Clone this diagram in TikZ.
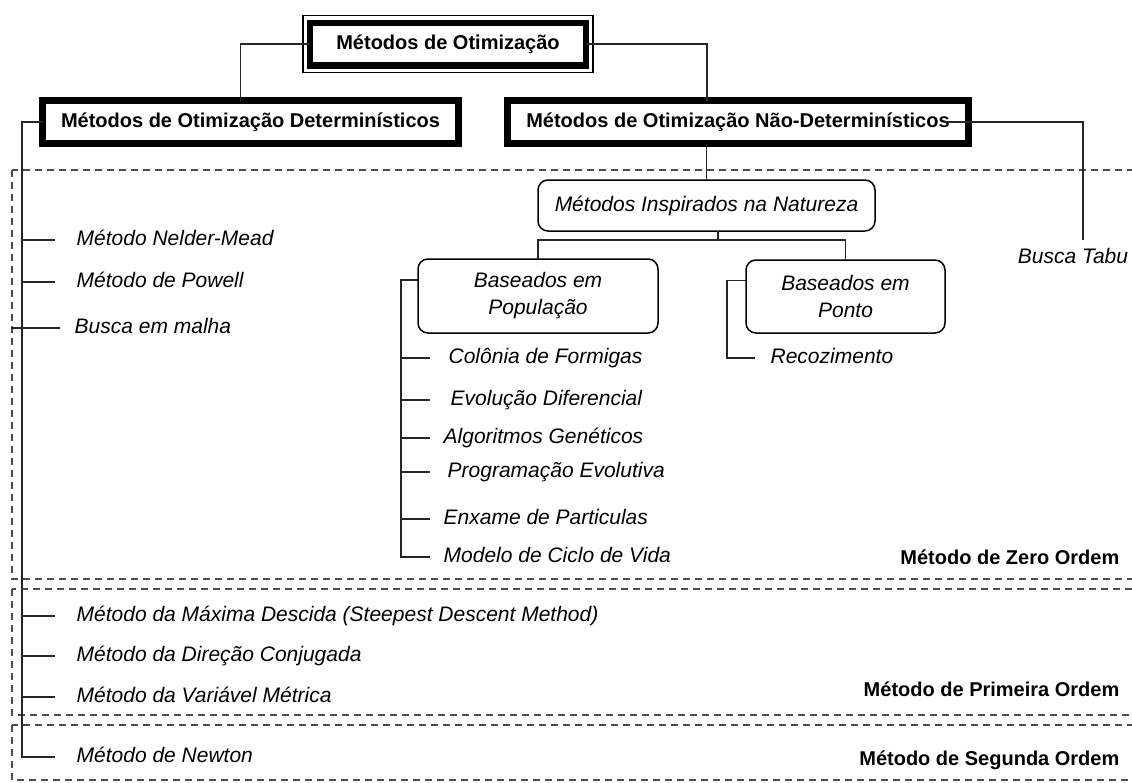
\documentclass[tikz,border=0pt]{standalone}
\usepackage{fontspec}
\setmainfont{Liberation Sans}

\begin{document}
\begin{tikzpicture}[x=1pt, y=-1pt, line width=1.3pt]
    \useasboundingbox (0,0) rectangle (1132,782);
    \clip (0,0) rectangle (1132,782);

    \begin{scope}[draw=black!70, line width=1.4pt, dash pattern=on 7pt off 5pt]
        \draw (12,170) rectangle (1160,579);
        \draw (12,589) rectangle (1160,715);
        \draw (12,725) rectangle (1160,780);
    \end{scope}

    \begin{scope}[every node/.style={draw, line width=7pt, fill=white, inner sep=0pt, outer sep=0pt,
                  font=\fontsize{20}{24}\selectfont\bfseries}]
        \node[line width=6.5pt, minimum width=276pt, minimum height=42.5pt] (top) at (448,44) {Métodos de Otimização};
        \node[minimum width=416pt, minimum height=43pt] (det) at (250.5,122) {Métodos de Otimização Determinísticos};
        \node[minimum width=461pt, minimum height=43pt] (ndet) at (738,122) {Métodos de Otimização Não-Determinísticos};
    \end{scope}
    \draw ([shift={(-7pt,7pt)}]top.north west) rectangle ([shift={(7pt,-7pt)}]top.south east);

    \begin{scope}[every node/.style={draw, rounded corners=10pt, line width=1.5pt, fill=white, inner sep=0pt,
                  outer sep=0pt, align=center, font=\fontsize{21}{27}\selectfont\itshape}]
        \node[minimum width=337pt, minimum height=51pt] (nat) at (706.5,205.5) {Métodos Inspirados na Natureza};
        \node[minimum width=240pt, minimum height=74pt] (pop) at (538,296) {Baseados em\\População};
        \node[minimum width=199pt, minimum height=73pt] (ponto) at (845.5,296.5) {Baseados em\\Ponto};
    \end{scope}

    \begin{scope}[every node/.style={anchor=west, inner sep=0pt, text height=15pt, text depth=4pt,
                  font=\fontsize{21}{25}\selectfont\itshape}]
        \node (nelder) at (76,240) {Método Nelder-Mead};
        \node (powell) at (76,282) {Método de Powell};
        \node (malha) at (74,328) {Busca em malha};
        \node (maxima) at (76,616) {Método da Máxima Descida (Steepest Descent Method)};
        \node (direcao) at (76,656) {Método da Direção Conjugada};
        \node (variavel) at (76,697) {Método da Variável Métrica};
        \node (newton) at (76,757) {Método de Newton};

        \node (colonia) at (448,358) {Colônia de Formigas};
        \node (evolucao) at (450,400) {Evolução Diferencial};
        \node (algoritmos) at (443,438) {Algoritmos Genéticos};
        \node (programacao) at (447,472) {Programação Evolutiva};
        \node (enxame) at (443,519) {Enxame de Particulas};
        \node (modelo) at (443,557) {Modelo de Ciclo de Vida};

        \node (recoz) at (770,358) {Recozimento};
        \node[anchor=north] (busca) at (1073,248) {Busca Tabu};
    \end{scope}

    \begin{scope}[every node/.style={anchor=east, inner sep=0pt, font=\fontsize{20}{24}\selectfont\bfseries}]
        \node (zero) at (1120,557) {Método de Zero Ordem};
        \node (primeira) at (1120,689) {Método de Primeira Ordem};
        \node (segunda) at (1120,760) {Método de Segunda Ordem};
    \end{scope}

    \coordinate (detx) at (22,0);
    \coordinate (dettip) at (55,0);
    \coordinate (popx) at (401,0);
    \coordinate (poptip) at (430,0);
    \coordinate (pontox) at (727,0);
    \coordinate (pontotip) at (755,0);
    \coordinate (natjoin) at (718,240);

    \begin{scope}[draw=black!85]
        \draw (top.west) -| ([xshift=-10pt]det.north);
        \draw (top.east) -| ([xshift=-31pt]ndet.north);
        \draw (ndet.south -| nat.north) -- (nat.north);
        \draw ([xshift=-25pt]ndet.east) -| ([shift={(10pt,8pt)}]busca.north);
        \draw (natjoin |- nat.south) -- (natjoin);
        \draw (pop.north) |- (natjoin) -| (ponto.north);

        \draw (det.west) -| (newton.west -| detx) -- (newton.west -| dettip);
        \foreach \n in {nelder,powell,maxima,direcao,variavel}
            \draw (\n.west -| detx) -- (\n.west -| dettip);
        \draw ([xshift=-63pt]malha.west) -- ([xshift=-14pt]malha.west);

        \draw ([yshift=16pt]pop.west) -| (modelo.west -| popx) -- (modelo.west -| poptip);
        \foreach \n in {colonia,evolucao,algoritmos,programacao,enxame}
            \draw (\n.west -| popx) -- (\n.west -| poptip);

        \draw ([yshift=16pt]ponto.west) -| (recoz.west -| pontox) -- (recoz.west -| pontotip);
    \end{scope}
\end{tikzpicture}
\end{document}
